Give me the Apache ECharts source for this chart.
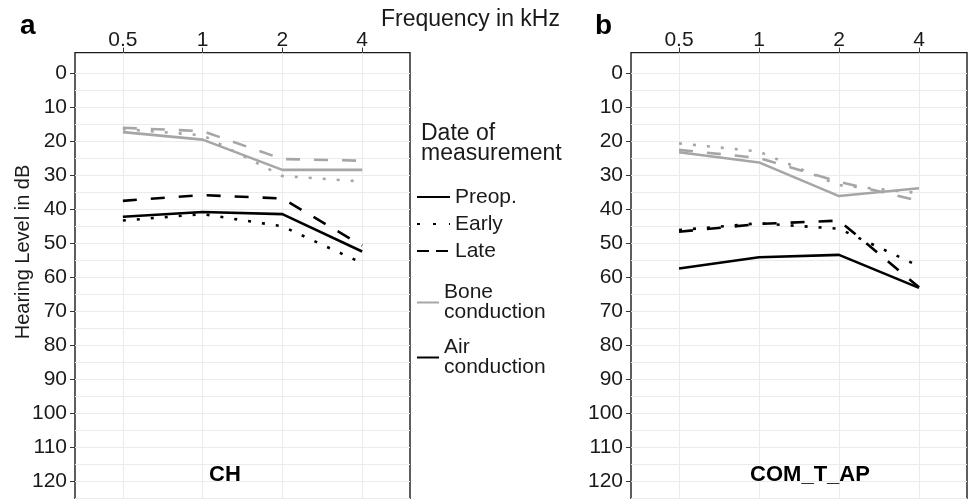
<!DOCTYPE html>
<html><head><meta charset="utf-8">
<script src="https://cdn.jsdelivr.net/npm/echarts@6/dist/echarts.min.js"></script>
<style>html,body{margin:0;padding:0;background:#fff}#c{width:968px;height:499px}</style>
</head><body><div id="c"></div>
<script>
// ---- data ----
const freqKHz = [0.5, 1, 2, 4];
const freqLabels = ['0.5', '1', '2', '4'];
const yTickValues = [0, 10, 20, 30, 40, 50, 60, 70, 80, 90, 100, 110, 120];
const yGridValues = [0, 5, 10, 15, 20, 25, 30, 35, 40, 45, 50, 55, 60, 65, 70, 75, 80, 85, 90, 95, 100, 105, 110, 115, 120, 125];
const panelNames = ['CH', 'COM_T_AP'];
const panelLetters = ['a', 'b'];
const timeNames = ['Preop.', 'Early', 'Late'];
const condNames = ['Bone conduction', 'Air conduction'];

// Panel a (CH)
const chBonePreop = [17.4, 19.6, 28.5, 28.5];
const chBoneEarly = [16.5, 18.3, 30.3, 31.9];
const chBoneLate  = [16.1, 17.1, 25.3, 25.8];
const chAirPreop  = [42.3, 40.9, 41.5, 52.5];
const chAirEarly  = [43.4, 41.5, 45.1, 55.9];
const chAirLate   = [37.6, 35.9, 36.9, 50.8];
// Panel b (COM_T_AP)
const comBonePreop = [23.3, 26.3, 36.2, 33.9];
const comBoneEarly = [20.7, 23.1, 33.0, 35.3];
const comBoneLate  = [22.6, 25.0, 32.0, 37.6];
const comAirPreop  = [57.5, 54.2, 53.5, 63.2];
const comAirEarly  = [46.2, 44.2, 45.8, 56.8];
const comAirLate   = [46.7, 44.4, 43.4, 63.0];

const panelData = [
  {bone: [chBonePreop, chBoneEarly, chBoneLate], air: [chAirPreop, chAirEarly, chAirLate]},
  {bone: [comBonePreop, comBoneEarly, comBoneLate], air: [comAirPreop, comAirEarly, comAirLate]}
];

// ---- styles ----
const FONT = "'Liberation Sans', Arial, Helvetica, sans-serif";
const TXT = '#1a1a1a';
const GREY = '#a6a6a6';
const BLACK = '#000000';
const LW = 2.6;
const dashTypes = ['solid', [3, 11], [14, 14]];
const gridCol = '#ebebeb';

const freqLog = freqKHz.map(f => Math.log2(f));

const grids = [
  {left: 75, top: 52.6, width: 335, height: 448.8},
  {left: 631, top: 52.6, width: 336, height: 448.8}
].map(g => Object.assign(g, {show: true, borderColor: '#1a1a1a', borderWidth: 1.4, backgroundColor: '#fff',
  containLabel: false, outerBoundsMode: 'none'}));

const xAxes = [0, 1].map(i => ({
  gridIndex: i, type: 'value', position: 'top', min: -1.6, max: 2.6,
  axisLine: {show: false, onZero: false},
  axisTick: {show: true, customValues: freqLog, length: 5, lineStyle: {color: '#333', width: 1}},
  axisLabel: {customValues: freqLog, margin: 2, fontSize: 21, color: TXT, fontFamily: FONT,
    formatter: v => freqLabels[freqLog.indexOf(v)]},
  splitLine: {show: true, lineStyle: {color: gridCol, width: 1}}
}));

const yAxes = [];
[0, 1].forEach(i => {
  // main axis: labels + all grid lines (major and minor)
  yAxes.push({
    gridIndex: i, type: 'value', inverse: true, min: -6, max: 126, position: 'left',
    axisLine: {show: false, onZero: false},
    axisTick: {show: false, customValues: yGridValues},
    axisLabel: {customValues: yTickValues, margin: 8, fontSize: 21, color: TXT, fontFamily: FONT},
    splitLine: {show: true, lineStyle: {color: gridCol, width: 1}}
  });
  // tick marks only
  yAxes.push({
    gridIndex: i, type: 'value', inverse: true, min: -6, max: 126, position: 'left', offset: 0,
    axisLine: {show: false, onZero: false},
    axisTick: {show: true, customValues: yTickValues, length: 5, lineStyle: {color: '#333', width: 1}},
    axisLabel: {show: false, customValues: yTickValues},
    splitLine: {show: false}
  });
});

const series = [];
panelData.forEach((pd, i) => {
  [['bone', GREY, 0], ['air', BLACK, 1]].forEach(([key, col, ci]) => {
    pd[key].forEach((vals, t) => {
      series.push({
        name: panelNames[i] + ' ' + condNames[ci] + ' ' + timeNames[t],
        type: 'line', xAxisIndex: i, yAxisIndex: i * 2, symbol: 'none', silent: true,
        lineStyle: {color: col, width: LW, type: dashTypes[t], cap: 'butt', join: 'round'},
        itemStyle: {color: col},
        data: freqLog.map((x, k) => [x, vals[k]]),
        animation: false
      });
    });
  });
});
// legend-only series (no data)
timeNames.forEach((n, t) => series.push({
  name: n, type: 'line', xAxisIndex: 0, yAxisIndex: 0, symbol: 'none', data: [],
  lineStyle: {color: BLACK, width: LW, type: dashTypes[t], cap: 'butt'}, itemStyle: {color: BLACK}
}));
condNames.forEach((n, ci) => series.push({
  name: n, type: 'line', xAxisIndex: 0, yAxisIndex: 0, symbol: 'none', data: [],
  lineStyle: {color: ci === 0 ? GREY : BLACK, width: LW, type: 'solid'}, itemStyle: {color: ci === 0 ? GREY : BLACK}
}));

const legends = [
  {left: 416, top: 186.5, orient: 'vertical', padding: 0, itemWidth: 33, itemHeight: 14, itemGap: 6, itemTextGap: 12,
   selectedMode: false, itemStyle: {opacity: 0, color: 'rgba(0,0,0,0)', borderWidth: 0},
   textStyle: {fontSize: 21, lineHeight: 21, color: TXT, fontFamily: FONT},
   data: [
     {name: timeNames[0]},
     {name: timeNames[1], lineStyle: {type: [3, 13]}},
     {name: timeNames[2], lineStyle: {type: [12, 7]}}
   ]},
  {left: 416, top: 282, orient: 'vertical', padding: 0, itemWidth: 22, itemHeight: 14, itemGap: 14, itemTextGap: 11,
   selectedMode: false, itemStyle: {opacity: 0, color: 'rgba(0,0,0,0)', borderWidth: 0},
   formatter: n => n.replace(' ', '\n'),
   textStyle: {fontSize: 21, lineHeight: 20, color: TXT, fontFamily: FONT},
   data: condNames.map(n => ({name: n}))}
];

function txt(text, x, y, opts) {
  return {
    type: 'text', x: x, y: y, silent: true, z: 100,
    style: Object.assign({text: text, fill: TXT, fontFamily: FONT, fontSize: 21,
      textAlign: 'left', textVerticalAlign: 'middle', align: 'left', verticalAlign: 'middle'}, opts || {})
  };
}
const graphics = [
  txt(panelLetters[0], 20, 26, {fontSize: 28, fontWeight: 'bold', fill: '#000'}),
  txt(panelLetters[1], 595, 26, {fontSize: 28, fontWeight: 'bold', fill: '#000'}),
  txt('Frequency in kHz', 381, 20, {fontSize: 23}),
  txt('Date of\nmeasurement', 421, 144, {fontSize: 23, lineHeight: 20}),
  txt(panelNames[0], 225, 475, {fontSize: 22, fontWeight: 'bold', fill: '#000', textAlign: 'center', align: 'center'}),
  txt(panelNames[1], 810, 475, {fontSize: 22, fontWeight: 'bold', fill: '#000', textAlign: 'center', align: 'center'}),
  Object.assign(txt('Hearing Level in dB', 23, 252, {fontSize: 20, textAlign: 'center', align: 'center'}), {rotation: Math.PI / 2})
];

const chart = echarts.init(document.getElementById('c'), null, {renderer: 'canvas'});
chart.setOption({
  animation: false,
  backgroundColor: '#fff',
  textStyle: {fontFamily: FONT},
  grid: grids,
  xAxis: xAxes,
  yAxis: yAxes,
  legend: legends,
  series: series,
  graphic: graphics
});
</script>
</body></html>
